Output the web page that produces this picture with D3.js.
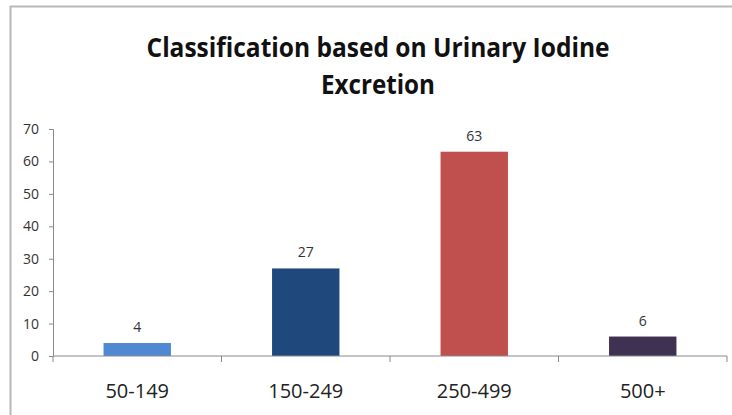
<!DOCTYPE html>
<html>
<head>
<meta charset="utf-8">
<style>
  body { margin: 0; background: #fff; }
  svg { display: block; }
</style>
</head>
<body>
<div id="viz_area"></div>
<script src="https://d3js.org/d3.v7.min.js"></script>
<script>
  // data
  var categories = ["50-149", "150-249", "250-499", "500+"];
  var values = [4, 27, 63, 6];
  var barColors = ["#4f88d3", "#1f497d", "#c0504d", "#3f3151"];
  var yTicks = [0, 10, 20, 30, 40, 50, 60, 70];
  var titleLines = ["Classification based on Urinary Iodine", "Excretion"];
  var titleWidths = [463, 114];

  var W = 732, H = 415;
  var margin = {top: 129, right: 5, bottom: 59, left: 53};
  var width = W - margin.left - margin.right,
      height = H - margin.top - margin.bottom;

  var svg = d3.select("#viz_area")
    .append("svg")
    .attr("width", W)
    .attr("height", H);

  // frame of the pasted image
  svg.append("line").attr("x1", 10).attr("x2", W).attr("y1", 6.5).attr("y2", 6.5)
    .style("stroke", "#b8b8b8").style("stroke-width", 2);
  svg.append("line").attr("x1", 10.5).attr("x2", 10.5).attr("y1", 6).attr("y2", H)
    .style("stroke", "#b8b8b8").style("stroke-width", 2);

  // title (condensed to the width of the original)
  svg.selectAll("text.title")
    .data(titleLines)
    .join("text")
      .attr("class", "title")
      .attr("x", function(d, i) { return 378 - titleWidths[i] / 2; })
      .attr("y", function(d, i) { return 57 + i * 37; })
      .attr("textLength", function(d, i) { return titleWidths[i]; })
      .attr("lengthAdjust", "spacingAndGlyphs")
      .style("font-family", "'Open Sans', sans-serif")
      .style("font-weight", "bold")
      .style("font-size", "26px")
      .style("fill", "#111")
      .text(function(d) { return d; });

  var g = svg.append("g")
    .attr("transform", "translate(" + margin.left + "," + margin.top + ")");

  var x = d3.scaleBand()
    .domain(categories)
    .range([0, width])
    .paddingInner(0.6)
    .paddingOuter(0.3);

  var y = d3.scaleLinear()
    .domain([0, 70])
    .range([height, 0]);

  // y axis
  var yAxis = g.append("g")
    .call(d3.axisLeft(y).tickValues(yTicks).tickSize(4).tickPadding(10));
  yAxis.select(".domain").style("stroke", "#8a8a8a");
  yAxis.selectAll(".tick line").style("stroke", "#8a8a8a");
  yAxis.selectAll(".tick text")
    .style("font-family", "'Open Sans', sans-serif")
    .style("font-size", "14px")
    .style("fill", "#333");

  // bars
  g.selectAll("rect.bar")
    .data(values)
    .join("rect")
      .attr("class", "bar")
      .attr("x", function(d, i) { return x(categories[i]); })
      .attr("width", x.bandwidth())
      .attr("y", function(d) { return y(d); })
      .attr("height", function(d) { return height - y(d); })
      .style("fill", function(d, i) { return barColors[i]; });

  // value labels
  g.selectAll("text.val")
    .data(values)
    .join("text")
      .attr("class", "val")
      .attr("x", function(d, i) { return x(categories[i]) + x.bandwidth() / 2; })
      .attr("y", function(d) { return y(d) - 11; })
      .attr("text-anchor", "middle")
      .style("font-family", "'Open Sans', sans-serif")
      .style("font-size", "14px")
      .style("fill", "#333")
      .text(function(d) { return d; });

  // x axis: ticks on category boundaries
  var xb = g.append("g").attr("transform", "translate(0," + height + ")");
  xb.append("line").attr("x1", 0).attr("x2", width)
    .style("stroke", "#8a8a8a");
  xb.selectAll("line.tk")
    .data(d3.range(categories.length + 1))
    .join("line")
      .attr("class", "tk")
      .attr("x1", function(i) { return i * width / categories.length; })
      .attr("x2", function(i) { return i * width / categories.length; })
      .attr("y1", 0).attr("y2", 6)
      .style("stroke", "#8a8a8a");
  xb.selectAll("text")
    .data(categories)
    .join("text")
      .attr("x", function(d) { return x(d) + x.bandwidth() / 2; })
      .attr("y", 42)
      .attr("text-anchor", "middle")
      .style("font-family", "'Open Sans', sans-serif")
      .style("font-size", "20px")
      .style("fill", "#222")
      .text(function(d) { return d; });
</script>
</body>
</html>
